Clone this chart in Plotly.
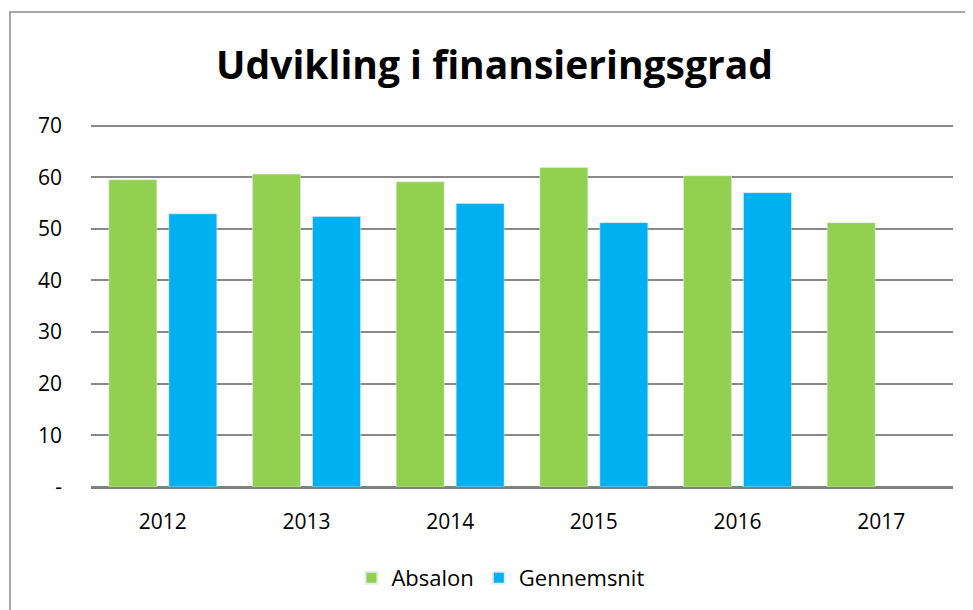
import plotly.graph_objects as go

years = ["2012", "2013", "2014", "2015", "2016", "2017"]
absalon = [59.5, 60.6, 59.1, 61.9, 60.3, 51.2]
gennemsnit = [52.9, 52.4, 54.9, 51.2, 57.0, None]
ytick_vals = [0, 10, 20, 30, 40, 50, 60, 70]
ytick_text = ["-", "10", "20", "30", "40", "50", "60", "70"]

font_family = "Open Sans, Noto Sans, sans-serif"

fig = go.Figure()
fig.add_trace(go.Bar(x=years, y=absalon, name="Absalon", marker_color="#92D050"))
fig.add_trace(go.Bar(x=years, y=gennemsnit, name="Gennemsnit", marker_color="#00B0F0"))

fig.update_layout(
    width=973, height=610,
    margin=dict(l=83, r=28, t=115, b=131, autoexpand=False),
    paper_bgcolor="white", plot_bgcolor="white",
    barmode="group", bargap=0.165, bargroupgap=0.2,
    title=dict(text="<b>Udvikling i finansieringsgrad</b>", x=0.5, xanchor="center",
               y=0.9066, yanchor="middle",
               font=dict(family=font_family, size=39, color="black")),
    font=dict(family=font_family, size=21, color="black"),
    showlegend=True,
    legend=dict(orientation="h", x=0.475, xanchor="center", y=-0.25, yanchor="middle",
                font=dict(size=22), itemsizing="constant"),
    xaxis=dict(showgrid=False, showline=False, ticks="", tickfont=dict(size=21),
               ticklabelstandoff=20, automargin=False),
    yaxis=dict(range=[0, 70.5], tickvals=ytick_vals, ticktext=ytick_text,
               showgrid=True, gridcolor="#898989", gridwidth=1.8,
               zeroline=True, zerolinecolor="#808080", zerolinewidth=3,
               showline=False, ticks="", tickfont=dict(size=21), ticklabelstandoff=28,
               automargin=False),
)
fig.add_shape(type="rect", xref="paper", yref="paper",
              x0=-0.094, x1=1.1, y0=-0.5, y1=1.305,
              line=dict(color="#8c8c8c", width=1.5), fillcolor="rgba(0,0,0,0)", layer="below")

fig.write_html("out.html")
